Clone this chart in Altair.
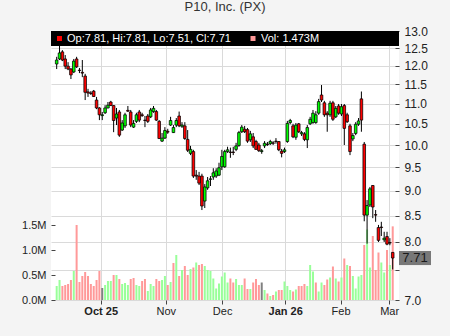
import json
import altair as alt
import pandas as pd

title_text = "P10, Inc. (PX)"

opens = [
    12.05, 12.19, 12.39, 12.19, 11.99, 11.91, 11.83, 12.19, 11.88, 11.82,
    11.72, 11.30, 11.27, 11.32, 11.09, 10.89, 10.70, 10.77, 10.89, 11.04,
    10.95, 10.64, 10.79, 10.35, 10.45, 10.83, 10.79, 10.42, 10.56, 10.79,
    10.72, 10.59, 10.69, 10.67, 10.80, 10.80, 10.56, 10.09, 10.16, 10.32,
    10.47, 10.29, 10.47, 10.69, 10.44, 10.45, 10.13, 9.81, 9.85, 9.33,
    9.31, 9.31, 8.79, 9.06, 9.24, 9.29, 9.31, 9.33, 9.51, 9.51,
    9.85, 9.84, 9.84, 9.90, 9.99, 10.31, 10.37, 10.36, 10.12, 10.19,
    10.08, 10.00, 9.85, 9.98, 10.02, 10.03, 10.05, 10.09, 10.08, 9.86,
    9.85, 10.08, 10.53, 10.45, 10.18, 10.50, 10.26, 10.26, 10.12, 10.50,
    10.53, 10.53, 10.76, 11.22, 11.02, 10.76, 10.72, 11.02, 10.67, 10.94,
    10.74, 10.95, 10.72, 10.45, 10.14, 10.27, 10.49, 11.12, 10.02, 8.51,
    8.71, 9.11, 8.52, 8.27, 8.28, 8.04, 8.10, 7.99, 7.81,
]
highs = [
    12.25, 12.59, 12.44, 12.30, 12.10, 11.94, 12.19, 12.25, 11.94, 12.16,
    11.78, 11.38, 11.32, 11.35, 11.17, 10.91, 10.79, 10.96, 11.04, 11.07,
    10.96, 10.89, 10.84, 10.59, 10.77, 10.94, 10.84, 10.59, 10.77, 10.84,
    10.77, 10.69, 10.74, 10.89, 10.94, 10.84, 10.59, 10.28, 10.42, 10.38,
    10.67, 10.47, 10.64, 10.80, 10.54, 10.54, 10.35, 9.98, 9.89, 9.44,
    9.40, 9.36, 9.14, 9.29, 9.31, 9.48, 9.48, 9.60, 9.89, 9.89,
    9.96, 9.94, 9.96, 10.05, 10.33, 10.47, 10.45, 10.40, 10.33, 10.28,
    10.12, 10.05, 9.91, 10.09, 10.07, 10.12, 10.09, 10.16, 10.09, 9.91,
    9.94, 10.57, 10.62, 10.50, 10.52, 10.52, 10.33, 10.30, 10.47, 10.67,
    10.84, 10.81, 11.12, 11.48, 11.07, 10.81, 11.07, 11.07, 10.94, 10.99,
    10.99, 10.99, 10.77, 10.50, 10.28, 10.54, 10.64, 11.31, 10.07, 8.81,
    9.08, 9.12, 8.61, 8.32, 8.38, 8.19, 8.19, 8.07, 7.81,
]
lows = [
    11.91, 12.16, 12.13, 11.91, 11.88, 11.64, 11.80, 11.94, 11.80, 11.69,
    11.09, 11.17, 11.22, 11.17, 10.86, 10.59, 10.59, 10.74, 10.88, 10.94,
    10.30, 10.47, 10.19, 10.33, 10.40, 10.79, 10.42, 10.40, 10.52, 10.54,
    10.67, 10.42, 10.52, 10.64, 10.77, 10.57, 10.14, 10.07, 10.14, 10.26,
    10.45, 10.28, 10.42, 10.42, 10.40, 10.12, 9.84, 9.77, 9.27, 9.23,
    9.12, 8.61, 8.65, 9.02, 9.10, 9.23, 9.27, 9.31, 9.44, 9.49,
    9.82, 9.71, 9.77, 9.86, 9.96, 10.28, 10.28, 10.05, 10.07, 9.93,
    9.89, 9.84, 9.80, 9.93, 9.98, 10.00, 10.00, 10.03, 9.86, 9.72,
    9.82, 10.05, 10.49, 10.16, 10.12, 10.28, 10.21, 10.09, 9.93, 10.47,
    10.50, 10.50, 10.72, 11.04, 10.67, 10.31, 10.67, 10.57, 10.64, 10.72,
    10.69, 10.00, 10.52, 9.77, 10.09, 10.23, 10.45, 10.31, 8.39, 7.97,
    8.67, 8.45, 8.38, 8.00, 8.11, 8.00, 7.94, 7.94, 7.51,
]
closes = [
    12.16, 12.36, 12.16, 11.99, 11.91, 11.75, 12.13, 11.97, 11.87, 11.80,
    11.29, 11.27, 11.26, 11.18, 10.89, 10.72, 10.72, 10.89, 10.96, 10.95,
    10.58, 10.74, 10.23, 10.52, 10.72, 10.81, 10.47, 10.51, 10.72, 10.59,
    10.70, 10.58, 10.56, 10.84, 10.88, 10.59, 10.15, 10.16, 10.34, 10.30,
    10.58, 10.41, 10.58, 10.45, 10.47, 10.15, 9.88, 9.90, 9.31, 9.31,
    9.16, 8.69, 9.08, 9.21, 9.25, 9.38, 9.42, 9.49, 9.74, 9.85,
    9.89, 9.83, 9.83, 9.98, 10.29, 10.42, 10.31, 10.09, 10.26, 9.98,
    9.90, 9.87, 9.87, 10.04, 10.01, 10.08, 10.04, 10.08, 9.89, 9.81,
    9.89, 10.51, 10.58, 10.19, 10.47, 10.31, 10.29, 10.13, 10.41, 10.61,
    10.76, 10.72, 11.05, 11.09, 10.72, 10.72, 11.01, 10.61, 10.88, 10.76,
    10.92, 10.39, 10.55, 9.85, 10.22, 10.49, 10.57, 10.59, 8.51, 8.70,
    9.04, 8.67, 8.51, 8.03, 8.27, 8.07, 7.96, 7.98, 7.71,
]
# volume in millions of shares
volumes = [
    0.28, 0.40, 0.28, 0.30, 0.32, 0.40, 0.58, 1.50, 0.36, 0.48,
    0.56, 0.48, 0.32, 0.28, 0.40, 0.58, 0.24, 0.30, 0.38, 0.38,
    0.50, 0.50, 0.42, 0.32, 0.34, 0.30, 0.42, 0.44, 0.30, 0.28,
    0.38, 0.42, 0.18, 0.32, 0.28, 0.42, 0.38, 0.40, 0.48, 0.30,
    0.36, 0.74, 0.90, 0.48, 0.60, 0.68, 0.50, 0.62, 0.65, 0.75,
    0.70, 0.72, 0.68, 0.60, 0.58, 0.43, 0.23, 0.33, 0.47, 0.55,
    0.35, 0.43, 0.35, 0.42, 0.30, 0.30, 0.43, 0.22, 0.22, 0.35,
    0.42, 0.30, 0.35, 0.20, 0.13, 0.08, 0.10, 0.17, 0.20, 0.20,
    0.37, 0.28, 0.20, 0.17, 0.21, 0.28, 0.28, 0.32, 0.28, 0.70,
    0.57, 0.35, 0.17, 0.35, 0.30, 0.41, 0.45, 0.67, 0.43, 0.37,
    0.45, 0.83, 0.70, 0.68, 0.48, 0.23, 0.47, 0.50, 1.10, 1.41,
    0.65, 1.28, 0.60, 0.95, 0.75, 0.55, 1.00, 0.70, 1.473,
]
# volume bar colour class: u = up, d = down, n = unchanged
vol_dir = (
    "u u d d d d u d d d "
    "d d d d d d n u u u "
    "d u d u u u d d u u "
    "d d u u u d d u u d "
    "u d u d u d d u d u "
    "d d u u u u u u u u "
    "u d d u u u d d u d "
    "d d n u d u d u d d "
    "u u u d u d d d u u "
    "u d u u d d u d u d "
    "u d u d u u u u d u "
    "u d d d u u d u d"
).split()

month_pos = [15.45, 38.3, 58.1, 80.25, 99.7, 116.75]
month_labels = ["Oct 25", "Nov", "Dec", "Jan 26", "Feb", "Mar"]
price_ticks = [7.0, 7.5, 8.0, 8.5, 9.0, 9.5, 10.0, 10.5, 11.0, 11.5, 12.0, 12.5, 13.0]
vol_ticks = [0.0, 0.5, 1.0, 1.5]

W, H = 348, 269
FONT = "Liberation Sans"
GRID = "#dadada"

n = len(closes)
df = pd.DataFrame({
    "i": list(range(n)),
    "open": opens, "high": highs, "low": lows, "close": closes,
    "vol": volumes, "vdir": vol_dir,
})
df["cdir"] = ["up" if c >= o else "down" for o, c in zip(opens, closes)]

xscale = alt.Scale(domain=[-0.24, 118.45], nice=False, zero=False)
pscale = alt.Scale(type="log", domain=[7, 13], nice=False, zero=False)
vscale = alt.Scale(domain=[0, 5.38], nice=False, zero=True)

bold_pos = [p for p, l in zip(month_pos, month_labels) if " " in l]
x_label_expr = f"{json.dumps(month_labels)}[indexof({json.dumps(month_pos)}, datum.value)]"

x_axis = alt.Axis(
    values=month_pos, labelExpr=x_label_expr, grid=True, gridColor=GRID,
    domain=False, ticks=True, tickSize=4, tickColor="#444", labelFont=FONT,
    labelFontSize=11, labelColor="#222", labelPadding=1, title=None,
    labelOverlap=False, labelFlush=False,
    labelFontWeight={"condition": {"test": f"indexof({json.dumps(bold_pos)}, datum.value) >= 0",
                                   "value": "bold"}, "value": "normal"},
)
vol_axis = alt.Axis(
    orient="left", values=vol_ticks, labelExpr="format(datum.value, '.1f') + 'M'",
    grid=False, domain=False, tickSize=4, offset=-4, labelPadding=5, tickColor="#444",
    labelFont=FONT, labelFontSize=11, labelColor="#222", title=None,
)
price_axis = alt.Axis(
    orient="right", values=price_ticks,
    labelExpr="datum.value == 7.5 ? '' : format(datum.value, '.1f')",
    grid=True, gridColor=GRID, domain=False, tickSize=4, offset=-4, labelPadding=5,
    tickColor="#444", labelFont=FONT, labelFontSize=12, labelColor="#222", title=None,
    labelOverlap=False,
)

X = alt.X("i:Q", scale=xscale, axis=x_axis)
base = alt.Chart(df)

vol_bars = base.mark_bar(width=2, clip=True).encode(
    x=X,
    y=alt.Y("vol:Q", scale=vscale, axis=vol_axis),
    color=alt.Color("vdir:N", scale=alt.Scale(domain=["u", "d", "n"],
                                              range=["#99ff99", "#ff9999", "#808080"]), legend=None),
)

wicks = base.mark_rule(color="black", strokeWidth=1, clip=True).encode(
    x=X,
    y=alt.Y("low:Q", scale=pscale, axis=price_axis),
    y2="high:Q",
)
bodies = base.mark_bar(width=2.6, stroke="black", strokeWidth=0.75, clip=True).encode(
    x=X,
    y=alt.Y("open:Q", scale=pscale, axis=price_axis),
    y2="close:Q",
    fill=alt.Fill("cdir:N", scale=alt.Scale(domain=["up", "down"], range=["#00ff00", "#ff0000"]),
                  legend=None),
)

last = pd.DataFrame({"close": [closes[-1]], "label": [f"{closes[-1]:.2f}"]})
box_shape = "M-1,-0.44L1,-0.44L1,0.44L-1,0.44Z"
last_box = alt.Chart(last).mark_point(shape=box_shape, size=1024, filled=True, fill="#787878",
                                      strokeWidth=0, opacity=1).encode(
    x=alt.value(W + 16), y=alt.Y("close:Q", scale=pscale, axis=price_axis))
last_text = alt.Chart(last).mark_text(font=FONT, fontSize=13, color="#1a1a1a", align="center",
                                      baseline="middle").encode(
    x=alt.value(W + 16), y=alt.Y("close:Q", scale=pscale, axis=price_axis), text="label:N")

hdr = pd.DataFrame({
    "ohlc": [f"Op:{opens[-1]:.2f}, Hi:{highs[-1]:.2f}, Lo:{lows[-1]:.2f}, Cl:{closes[-1]:.2f}"],
    "vol": [f"Vol: {volumes[-1]:.3f}M"],
})
hdr_band = alt.Chart(hdr).mark_rect(color="black").encode(
    x=alt.value(0), x2=alt.value(W), y=alt.value(0), y2=alt.value(15))
hdr_sq1 = alt.Chart(hdr).mark_square(size=25, color="#ff0000", opacity=1).encode(
    x=alt.value(8.5), y=alt.value(7.5))
hdr_sq2 = alt.Chart(hdr).mark_square(size=25, color="#ff9999", opacity=1).encode(
    x=alt.value(202), y=alt.value(7.5))
hdr_t1 = alt.Chart(hdr).mark_text(font=FONT, fontSize=11, color="white", align="left",
                                  baseline="middle").encode(
    x=alt.value(16), y=alt.value(8), text="ohlc:N")
hdr_t2 = alt.Chart(hdr).mark_text(font=FONT, fontSize=11, color="white", align="left",
                                  baseline="middle").encode(
    x=alt.value(210), y=alt.value(8), text="vol:N")

price_layer = alt.layer(wicks, bodies, last_box, last_text, hdr_band, hdr_sq1, hdr_sq2, hdr_t1, hdr_t2)

chart = alt.layer(vol_bars, price_layer).resolve_scale(y="independent").properties(
    width=W, height=H,
    title=alt.TitleParams(text=title_text, font=FONT, fontSize=13, fontWeight="normal",
                          color="#333333", anchor="middle", offset=11),
    padding={"left": 51, "top": 31, "right": 51, "bottom": 36},
    autosize=alt.AutoSizeParams(type="none"),
).configure(background="#f4f4f4").configure_view(fill="white", stroke=None)

chart.save("out.html", embed_options={"renderer": "svg", "actions": False})
